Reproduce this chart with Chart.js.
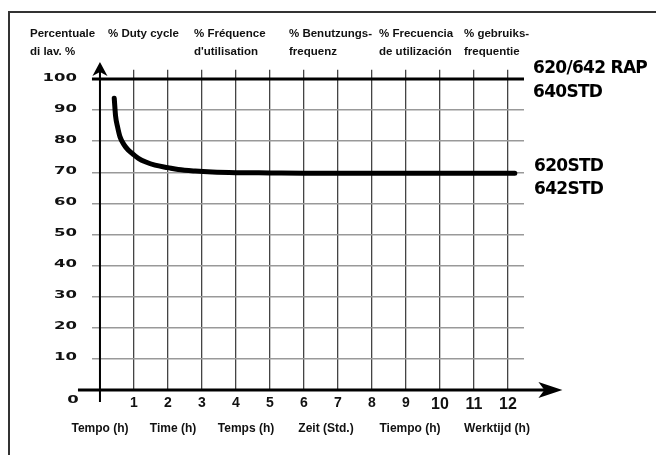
<!DOCTYPE html>
<html><head><meta charset="utf-8">
<script src="https://cdn.jsdelivr.net/npm/chart.js@4.4.1/dist/chart.umd.min.js"></script>
<style>html,body{margin:0;padding:0;background:#fff;}canvas{display:block;}</style>
</head><body>
<canvas id="c" width="656" height="455"></canvas>
<script>
// ---- data ----
const hourTicks = [0,1,2,3,4,5,6,7,8,9,10,11,12];
const dutyTicks = [0,10,20,30,40,50,60,70,80,90,100];
const stdHours = [0.42,0.46,0.52,0.59,0.70,0.83,1.00,1.13,1.35,1.62,2.00,2.30,2.80,3.30,4,5,6,8,10,12.2];
const stdDuty  = [93.8,88.0,84.5,81.4,79.0,77.2,75.6,74.5,73.3,72.3,71.5,70.9,70.4,70.1,69.9,69.8,69.7,69.7,69.7,69.7];
const rapHours = [-0.24, 12.47];
const rapDuty  = [100, 100];
const headerTexts = [["Percentuale","di lav. %"],["% Duty cycle",""],["% Fréquence","d'utilisation"],["% Benutzungs-","frequenz"],["% Frecuencia","de utilización"],["% gebruiks-","frequentie"]];
const timeLabels = ["Tempo (h)","Time (h)","Temps (h)","Zeit (Std.)","Tiempo (h)","Werktijd (h)"];
const rapNames = ["620/642 RAP","640STD"];
const stdNames = ["620STD","642STD"];
const originLabel = "0";

const toPts = (xs, ys) => xs.map((v, i) => ({x: v, y: ys[i]}));

const deco = {
  id: 'deco',
  afterDraw(chart) {
    const {ctx, scales: {x, y}} = chart;
    ctx.save();
    // frame
    ctx.strokeStyle = '#333'; ctx.lineWidth = 2;
    ctx.strokeRect(9, 12, 720, 520);
    const x0 = x.getPixelForValue(0), y0 = y.getPixelForValue(0);
    ctx.strokeStyle = '#000'; ctx.fillStyle = '#000';
    // y axis
    ctx.lineWidth = 2;
    ctx.beginPath(); ctx.moveTo(x0, y0 + 12); ctx.lineTo(x0, y.getPixelForValue(103)); ctx.stroke();
    const yt = y.getPixelForValue(105.5);
    ctx.beginPath(); ctx.moveTo(x0, yt); ctx.lineTo(x0 + 7.5, yt + 14); ctx.lineTo(x0, yt + 10); ctx.lineTo(x0 - 7.5, yt + 14); ctx.closePath(); ctx.fill();
    // x axis
    ctx.lineWidth = 3;
    ctx.beginPath(); ctx.moveTo(x0 - 22, y0); ctx.lineTo(x.getPixelForValue(13.1), y0); ctx.stroke();
    const xt = x.getPixelForValue(13.6);
    ctx.beginPath(); ctx.moveTo(xt, y0); ctx.lineTo(xt - 24, y0 - 8); ctx.lineTo(xt - 18, y0); ctx.lineTo(xt - 24, y0 + 8); ctx.closePath(); ctx.fill();
    // y tick labels (wide font)
    ctx.font = 'bold 10px "DejaVu Sans"';
    ctx.textBaseline = 'middle';
    y.ticks.forEach(t => {
      const py = y.getPixelForValue(t.value);
      ctx.save();
      if (t.value === 0) { ctx.translate(x0 - 27, py + 10); ctx.textAlign = 'center'; }
      else { ctx.translate(x0 - 23, py - 1); ctx.textAlign = 'right'; }
      ctx.scale(1.65, 1);
      ctx.fillStyle = '#111';
      ctx.fillText(t.value === 0 ? originLabel : String(t.value), 0, 0);
      ctx.restore();
    });
    // headers
    ctx.fillStyle = '#111';
    ctx.font = 'bold 11.5px "Liberation Sans"';
    ctx.textAlign = 'left'; ctx.textBaseline = 'alphabetic';
    const hx = [30, 108, 194, 289, 379, 464];
    headerTexts.forEach((h, i) => { ctx.fillText(h[0], hx[i], 37); if (h[1]) ctx.fillText(h[1], hx[i], 55); });
    // bottom time labels
    ctx.font = 'bold 12px "Liberation Sans"';
    ctx.textAlign = 'center';
    const bx = [100, 173, 246, 326, 410, 497];
    timeLabels.forEach((t, i) => ctx.fillText(t, bx[i], 432));
    // series labels
    ctx.font = 'bold 17px "DejaVu Sans"';
    ctx.letterSpacing = '-0.7px';
    ctx.textAlign = 'left';
    ctx.fillStyle = '#000';
    ctx.fillText(rapNames[0], 533, 73);
    ctx.fillText(rapNames[1], 533, 97);
    ctx.fillText(stdNames[0], 534, 171);
    ctx.fillText(stdNames[1], 534, 194);
    ctx.restore();
  }
};

new Chart(document.getElementById('c'), {
  type: 'scatter',
  data: {
    datasets: [
      { label: '620STD / 642STD', data: toPts(stdHours, stdDuty), showLine: true, borderColor: '#000', borderWidth: 5,
        pointRadius: 0, cubicInterpolationMode: 'monotone', borderCapStyle: 'round', fill: false },
      { label: '620/642 RAP / 640STD', data: toPts(rapHours, rapDuty), showLine: true, borderColor: '#000', borderWidth: 3,
        pointRadius: 0, fill: false }
    ]
  },
  options: {
    responsive: false,
    animation: false,
    devicePixelRatio: 1,
    layout: { padding: { left: 91.8, right: 132, top: 69.7, bottom: 45 } },
    plugins: { legend: { display: false }, tooltip: { enabled: false } },
    scales: {
      x: {
        type: 'linear', min: -0.24, max: 12.47,
        afterBuildTicks: s => { s.ticks = hourTicks.map(v => ({value: v})); },
        afterFit: s => { s.height = 20; },
        grid: { color: '#444', lineWidth: 1.3, drawTicks: false },
        border: { display: false },
        ticks: {
          padding: 5, color: '#111', autoSkip: false, maxRotation: 0,
          font: c => ({ family: 'Liberation Sans', weight: 'bold', size: (c.tick && c.tick.value >= 10) ? 16 : 14 }),
          callback: v => v === 0 ? '' : String(v)
        }
      },
      y: {
        type: 'linear', min: 0, max: 103,
        afterBuildTicks: s => { s.ticks = dutyTicks.map(v => ({value: v})); },
        afterFit: s => { s.width = 0; },
        grid: { color: '#999', lineWidth: 1.5, drawTicks: false },
        border: { display: false },
        ticks: { display: false }
      }
    }
  },
  plugins: [deco]
});
</script>
</body></html>
